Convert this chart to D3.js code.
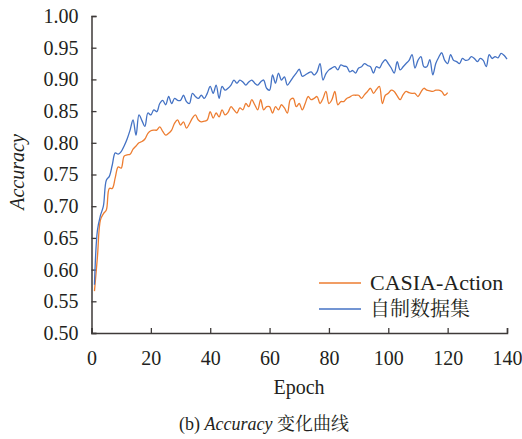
<!DOCTYPE html>
<html>
<head>
<meta charset="utf-8">
<script src="https://cdn.jsdelivr.net/npm/d3@7"></script>
<style>
  body { margin: 0; background: #fff; }
  text { font-family: "Liberation Serif", "Times New Roman", "Noto Serif CJK SC", "Noto Sans CJK SC", serif; fill: #231f20; }
</style>
</head>
<body>
<div id="chart"></div>
<script>
var width = 522, height = 439;

// data
var seriesNames = ["CASIA-Action", "自制数据集"];
var seriesColors = ["#ed7d31", "#4472c4"];
var xTicks = [0, 20, 40, 60, 80, 100, 120, 140];
var yTicks = [0.50, 0.55, 0.60, 0.65, 0.70, 0.75, 0.80, 0.85, 0.90, 0.95, 1.00];

var casiaAcc = [
  0.566, 0.620, 0.678, 0.688, 0.694, 0.728, 0.728, 0.745, 0.762, 0.760,
  0.779, 0.781, 0.782, 0.790, 0.795, 0.800, 0.802, 0.806, 0.815, 0.819,
  0.820, 0.820, 0.825, 0.818, 0.812, 0.815, 0.820, 0.831, 0.836, 0.828,
  0.833, 0.823, 0.830, 0.839, 0.844, 0.836, 0.833, 0.834, 0.836, 0.849,
  0.839, 0.847, 0.841, 0.852, 0.844, 0.848, 0.857, 0.852, 0.847, 0.855,
  0.852, 0.862, 0.857, 0.868, 0.860, 0.852, 0.868, 0.852, 0.857, 0.857,
  0.847, 0.857, 0.852, 0.860, 0.855, 0.847, 0.868, 0.870, 0.857, 0.862,
  0.852, 0.862, 0.873, 0.868, 0.870, 0.873, 0.862, 0.870, 0.881, 0.862,
  0.868, 0.881, 0.860, 0.865, 0.865, 0.870, 0.872, 0.875, 0.875, 0.875,
  0.870, 0.876, 0.881, 0.886, 0.878, 0.884, 0.889, 0.862, 0.875, 0.878,
  0.883, 0.881, 0.874, 0.868, 0.876, 0.881, 0.879, 0.878, 0.878, 0.873,
  0.880, 0.886, 0.883, 0.882, 0.881, 0.883, 0.883, 0.881, 0.875, 0.879
];

var ownAcc = [
  0.576, 0.662, 0.685, 0.700, 0.741, 0.747, 0.765, 0.784, 0.782, 0.786,
  0.795, 0.806, 0.820, 0.836, 0.812, 0.844, 0.835, 0.826, 0.847, 0.844,
  0.852, 0.849, 0.862, 0.867, 0.860, 0.873, 0.862, 0.870, 0.867, 0.867,
  0.875, 0.865, 0.862, 0.878, 0.873, 0.870, 0.875, 0.870, 0.878, 0.889,
  0.878, 0.891, 0.870, 0.889, 0.883, 0.886, 0.891, 0.899, 0.894, 0.899,
  0.896, 0.891, 0.896, 0.899, 0.894, 0.891, 0.896, 0.899, 0.886, 0.883,
  0.907, 0.894, 0.910, 0.899, 0.904, 0.891, 0.897, 0.904, 0.910, 0.916,
  0.905, 0.907, 0.910, 0.912, 0.907, 0.912, 0.925, 0.899, 0.909, 0.915,
  0.918, 0.920, 0.915, 0.923, 0.921, 0.920, 0.912, 0.914, 0.910, 0.918,
  0.920, 0.925, 0.922, 0.920, 0.910, 0.920, 0.918, 0.926, 0.931, 0.925,
  0.918, 0.910, 0.928, 0.915, 0.920, 0.925, 0.930, 0.939, 0.918, 0.930,
  0.936, 0.920, 0.920, 0.931, 0.907, 0.925, 0.935, 0.942, 0.930, 0.925,
  0.939, 0.930, 0.928, 0.925, 0.933, 0.930, 0.931, 0.936, 0.933, 0.928,
  0.933, 0.930, 0.920, 0.939, 0.933, 0.936, 0.934, 0.941, 0.938, 0.932
];

var series = [casiaAcc, ownAcc];

var svg = d3.select('#chart')
  .append('svg')
  .attr('width', width)
  .attr('height', height);

var x = d3.scaleLinear().domain([0, 140]).range([91.5, 507]);
var y = d3.scaleLinear().domain([0.5, 1.0]).range([333, 16]);

var axisColor = "#3e3a39";
var serif = '"Liberation Serif", "Times New Roman", serif';

// y axis
var yAxis = svg.append('g')
  .attr('transform', 'translate(' + x(0) + ',0)')
  .call(d3.axisLeft(y).tickValues(yTicks).tickFormat(d3.format('.2f')).tickSize(-5).tickPadding(13));

// x axis
var xAxis = svg.append('g')
  .attr('transform', 'translate(0,' + y(0.5) + ')')
  .call(d3.axisBottom(x).tickValues(xTicks).tickSize(-5).tickPadding(18));

[xAxis, yAxis].forEach(function(a) {
  a.attr('font-family', serif).attr('font-size', 20);
  a.select('.domain').attr('stroke', axisColor).attr('stroke-width', 1.5);
  a.selectAll('.tick line').attr('stroke', axisColor).attr('stroke-width', 1.3);
  a.selectAll('.tick text')
    .style('font-family', serif)
    .style('font-size', '20px')
    .attr('fill', '#231f20');
});

// lines
var line = d3.line()
  .x(function(d, i) { return x(i + 1); })
  .y(function(d) { return y(d); })
  .curve(d3.curveCatmullRom);

series.forEach(function(s, i) {
  svg.append('path')
    .datum(s)
    .attr('fill', 'none')
    .attr('stroke', seriesColors[i])
    .attr('stroke-width', 1.3)
    .attr('stroke-linejoin', 'round')
    .attr('d', line);
});

// axis titles
svg.append('text')
  .attr('x', 299)
  .attr('y', 394)
  .attr('text-anchor', 'middle')
  .style('font-size', '20px')
  .text('Epoch');

svg.append('text')
  .attr('transform', 'translate(24,172) rotate(-90)')
  .attr('text-anchor', 'middle')
  .style('font-size', '20px')
  .style('font-style', 'italic')
  .text('Accuracy');

// legend
var legendSizes = ['22px', '20px'];
var legend = svg.append('g');
seriesNames.forEach(function(name, i) {
  var ly = 283 + i * 26;
  legend.append('line')
    .attr('x1', 319).attr('x2', 361)
    .attr('y1', ly).attr('y2', ly)
    .attr('stroke', seriesColors[i])
    .attr('stroke-width', 1.3);
  legend.append('text')
    .attr('x', 370)
    .attr('y', ly + 6.5)
    .style('font-size', legendSizes[i])
    .text(name);
});

// caption
var cap = svg.append('text')
  .attr('x', 264)
  .attr('y', 430)
  .attr('text-anchor', 'middle')
  .style('font-size', '18px');
cap.append('tspan').text('(b) ');
cap.append('tspan').style('font-style', 'italic').text('Accuracy');
cap.append('tspan').text(' 变化曲线');
</script>
</body>
</html>
